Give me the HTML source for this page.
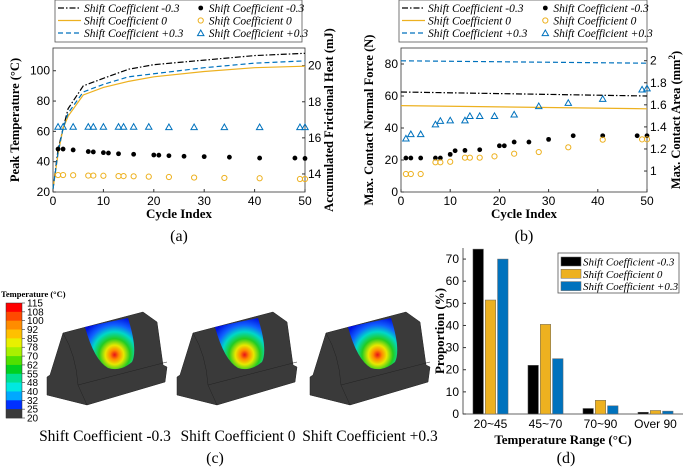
<!DOCTYPE html>
<html><head><meta charset="utf-8"><style>
html,body{margin:0;padding:0;background:#fff;}
svg{display:block;font-family:"Liberation Sans",sans-serif;}
.serif{font-family:"Liberation Serif",serif;}
</style></head><body>
<svg id="fig" width="685" height="468" viewBox="0 0 685 468" xmlns="http://www.w3.org/2000/svg">
<defs>
<radialGradient id="heat" cx="0.6" cy="0.72" r="0.75">
<stop offset="0" stop-color="#e8101a"/><stop offset="0.12" stop-color="#ff8a00"/><stop offset="0.25" stop-color="#e8e800"/>
<stop offset="0.42" stop-color="#22cc22"/><stop offset="0.6" stop-color="#00d8c8"/><stop offset="0.78" stop-color="#1060ff"/><stop offset="1" stop-color="#0010e0"/>
</radialGradient>
</defs>
<g id="pa"></g>
<g id="pb"></g>
<g id="pc"></g>
<g id="pd"></g>
</svg>
<script>
// ---------- Panel (a) data ----------
const aLineX = [0,1,2,3,6,10,15,20,30,40,50];
const aTempNeg = [22,48,62,75,90,95,101,104,107,110,111.5];
const aTempZero = [22,45,62,70,84,89,93,96,99.5,102,103];
const aTempPos = [22,46,62,72,86,91,96,98,102,105,106.5];
const aHeatNegX = [1,2,4,7,8,10,11,13,16,20,21,23,26,30,35,41,48,50];
const aHeatNeg = [15.38,15.38,15.33,15.24,15.22,15.18,15.16,15.12,15.09,15.05,15.04,15.01,14.98,14.96,14.93,14.88,14.88,14.86];
const aHeatX = [1,2,4,7,8,10,13,14,16,19,23,28,34,41,49,50];
const aHeatZero = [13.94,13.94,13.93,13.91,13.91,13.9,13.88,13.88,13.87,13.85,13.83,13.8,13.78,13.76,13.72,13.72];
const aHeatPos = [16.62,16.62,16.62,16.62,16.62,16.62,16.62,16.62,16.62,16.62,16.6,16.6,16.6,16.6,16.6,16.6];
const aLeftTicks = [20,40,60,80,100];
const aRightTicks = [14,16,18,20];
const xTicks = [0,10,20,30,40,50];
// ---------- Panel (b) data ----------
const bLineX = [0,50];
const bForceNeg = [62.5,60];
const bForceZero = [54,52];
const bForcePos = [82,80.5];
const bAreaNegX = [1,2,4,7,8,10,11,13,16,20,21,23,26,30,35,41,48,50];
const bAreaNeg = [1.118,1.118,1.118,1.118,1.118,1.151,1.184,1.187,1.193,1.229,1.229,1.263,1.263,1.287,1.32,1.32,1.32,1.32];
const bAreaX = [1,2,4,7,8,10,13,14,16,19,23,28,34,41,49,50];
const bAreaZero = [0.973,0.973,0.973,1.079,1.079,1.084,1.121,1.121,1.121,1.133,1.157,1.172,1.215,1.284,1.287,1.287];
const bAreaPos = [1.296,1.335,1.335,1.424,1.456,1.46,1.46,1.50,1.50,1.50,1.513,1.589,1.619,1.655,1.74,1.75];
const bLeftTicks = [0,20,40,60,80];
const bRightTicks = [1,1.2,1.4,1.6,1.8,2];
// ---------- Panel (d) data ----------
const dCats = ["20~45","45~70","70~90","Over 90"];
const dNeg = [74.5,22,2.5,0.8];
const dZero = [51.5,40.5,6.2,1.6];
const dPos = [70,25,3.7,1.3];
const dTicks = [0,10,20,30,40,50,60,70];
// ---------- Panel (c) data ----------
const cbLabels = ["115","108","100","92","85","78","70","62","55","48","40","32","25","20"];
const cbColors = ["#ff0000","#ff4a00","#ff8c00","#ffc000","#e8f000","#a8f000","#50e000","#00d020","#00e090","#00e8e0","#00a8ff","#0030ff","#3a3a3a"];

const NS="http://www.w3.org/2000/svg";
function mk(parent,tag,attrs,text){const e=document.createElementNS(NS,tag);for(const k in attrs)e.setAttribute(k,attrs[k]);if(text!==undefined)e.textContent=text;parent.appendChild(e);return e;}
const BLK="#000",ORG="#edb120",BLU="#0072bd";

function legend(g,x0,y0,w){
  const box=mk(g,'rect',{x:x0,y:y0,width:w,height:42,fill:'#fff',stroke:'#555','stroke-width':0.8});
  
  const names=["Shift Coefficient -0.3","Shift Coefficient 0","Shift Coefficient +0.3"];
  const cols=[BLK,ORG,BLU],dash=["6,2,1.5,2","","5,3"];
  for(let i=0;i<3;i++){
    const y=y0+8+i*12.5;
    const l=mk(g,'line',{x1:x0+3,x2:x0+26,y1:y,y2:y,stroke:cols[i],'stroke-width':1.2,'stroke-dasharray':dash[i]});
    
    const t=mk(g,'text',{x:x0+29,y:y+4,'font-size':11.5,'font-style':'italic','class':'serif'},names[i]);
    
    const mx=x0+w*0.59;
    let m;
    if(i==0)m=mk(g,'circle',{cx:mx,cy:y,r:2.4,fill:BLK});
    else if(i==1)m=mk(g,'circle',{cx:mx,cy:y,r:2.6,fill:'none',stroke:ORG,'stroke-width':1});
    else m=mk(g,'path',{d:`M${mx-3.2},${y+2.6}L${mx},${y-3}L${mx+3.2},${y+2.6}Z`,fill:'none',stroke:BLU,'stroke-width':1});
    
    const t2=mk(g,'text',{x:mx+8,y:y+4,'font-size':11.5,'font-style':'italic','class':'serif'},names[i]);
    
  }
}
function marker(g,type,x,y,col){
  if(type==0)return mk(g,'circle',{cx:x,cy:y,r:2.4,fill:BLK});
  if(type==1)return mk(g,'circle',{cx:x,cy:y,r:2.6,fill:'none',stroke:ORG,'stroke-width':1});
  return mk(g,'path',{d:`M${x-3.2},${y+2.6}L${x},${y-3}L${x+3.2},${y+2.6}Z`,fill:'none',stroke:BLU,'stroke-width':1});
}
function dualPanel(g,cfg){
  const {L,R,T,B,x0,x1,yl0,yl1,yr0,yr1}=cfg;
  const sx=v=>L+(v-x0)/(x1-x0)*(R-L);
  const syl=v=>B-(v-yl0)/(yl1-yl0)*(B-T);
  const syr=v=>B-(v-yr0)/(yr1-yr0)*(B-T);
  const fr=mk(g,'rect',{x:L,y:T,width:R-L,height:B-T,fill:'none',stroke:'#333','stroke-width':0.8});
  
  xTicks.forEach(v=>{const x=sx(v);mk(g,'line',{x1:x,x2:x,y1:B,y2:B-3,stroke:'#333'});
    const t=mk(g,'text',{x:x,y:B+13,'font-size':12,'text-anchor':'middle'},v);
    });
  cfg.lt.forEach(v=>{const y=syl(v);mk(g,'line',{x1:L,x2:L+3,y1:y,y2:y,stroke:'#333'});
    const t=mk(g,'text',{x:L-3,y:y+4,'font-size':12,'text-anchor':'end'},v);
    });
  cfg.rt.forEach(v=>{const y=syr(v);mk(g,'line',{x1:R,x2:R-3,y1:y,y2:y,stroke:'#333'});
    const t=mk(g,'text',{x:R+3,y:y+4,'font-size':12},v);
    });
  const cols=[BLK,ORG,BLU],dash=["6,2,1.5,2","","5,3"];
  cfg.lines.forEach((ys,i)=>{
    const p=mk(g,'polyline',{points:cfg.lx.map((x,j)=>sx(x)+','+syl(ys[j])).join(' '),fill:'none',stroke:cols[i],'stroke-width':1.2,'stroke-dasharray':dash[i]});
    
  });
  cfg.scat.forEach((s,i)=>{
    s.x.forEach((xv,j)=>{const m=marker(g,i,sx(xv),syr(s.y[j]));
      });
  });
  const xl=mk(g,'text',{x:(L+R)/2,y:B+26,'font-size':13,'font-weight':'bold','text-anchor':'middle','class':'serif'},'Cycle Index');
  
  const yl=mk(g,'text',{x:0,y:0,'font-size':12.5,'font-weight':'bold','text-anchor':'middle','class':'serif',transform:`translate(${cfg.ylx},${(T+B)/2}) rotate(-90)`},cfg.ylabel);
  
  const yr=mk(g,'text',{x:0,y:0,'font-size':12.5,'font-weight':'bold','text-anchor':'middle','class':'serif',transform:`translate(${cfg.yrx},${(T+B)/2}) rotate(-90)`});
  yr.innerHTML=cfg.yrlabel;
  
  const cap=mk(g,'text',{x:(L+R)/2,y:241,'font-size':16,'text-anchor':'middle','class':'serif'},cfg.cap);
  
}
// Panel a
const pa=document.getElementById('pa');
legend(pa,55,0,247);
dualPanel(pa,{L:53,R:305,T:48,B:192,x0:0,x1:50,yl0:20,yl1:115,yr0:13,yr1:20.98,lt:aLeftTicks,rt:aRightTicks,
  lx:aLineX,lines:[aTempNeg,aTempZero,aTempPos],
  scat:[{x:aHeatNegX,y:aHeatNeg},{x:aHeatX,y:aHeatZero},{x:aHeatX,y:aHeatPos}],
  ylx:19,yrx:333,ylabel:'Peak Temperature (°C)',yrlabel:'Accumulated Frictional Heat (mJ)',cap:'(a)'});
// Panel b
const pb=document.getElementById('pb');
legend(pb,399,0,248);
dualPanel(pb,{L:401,R:647,T:48,B:192,x0:0,x1:50,yl0:0,yl1:90,yr0:0.81,yr1:2.115,lt:bLeftTicks,rt:bRightTicks,
  lx:bLineX,lines:[bForceNeg,bForceZero,bForcePos],
  scat:[{x:bAreaNegX,y:bAreaNeg},{x:bAreaX,y:bAreaZero},{x:bAreaX,y:bAreaPos}],
  ylx:373,yrx:680,ylabel:'Max. Contact Normal Force (N)',yrlabel:'Max. Contact Area (mm<tspan dy="-5" font-size="9">2</tspan><tspan dy="5">)</tspan>',cap:'(b)'});

// Panel d
(function(){
  const g=document.getElementById('pd');
  const L=463,R=683,T=248,B=414,ymax=75;
  const sy=v=>B-v/ymax*(B-T);
  const fr=mk(g,'path',{d:`M${L},${T}L${L},${B}L${R},${B}`,fill:'none',stroke:'#333','stroke-width':0.8});
  
  dTicks.forEach(v=>{const y=sy(v);mk(g,'line',{x1:L,x2:L+3,y1:y,y2:y,stroke:'#333'});
    const t=mk(g,'text',{x:L-4,y:y+4,'font-size':12,'text-anchor':'end'},v);
    });
  const gw=(R-L)/dCats.length, bw=10.5;
  const series=[dNeg,dZero,dPos],cols=[BLK,ORG,BLU];
  dCats.forEach((c,i)=>{
    const cx=L+gw*(i+0.5);
    series.forEach((s,k)=>{
      const x=cx+(k-1)*12.3-bw/2;
      const r=mk(g,'rect',{x:x,y:sy(s[i]),width:bw,height:B-sy(s[i]),fill:cols[k],stroke:'#666','stroke-width':0.5});
      
    });
    const t=mk(g,'text',{x:cx,y:B+14,'font-size':12,'text-anchor':'middle'},c);
    
  });
  const xl=mk(g,'text',{x:L+(R-L)/2-10,y:444,'font-size':13,'font-weight':'bold','text-anchor':'middle','class':'serif'},'Temperature Range (°C)');
  
  const yl=mk(g,'text',{x:0,y:0,'font-size':13,'font-weight':'bold','text-anchor':'middle','class':'serif',transform:`translate(444,${(T+B)/2}) rotate(-90)`},'Proportion (%)');
  
  const lb=mk(g,'rect',{x:558,y:253,width:121,height:40,fill:'#fff',stroke:'#555','stroke-width':0.8});
  
  const names=["Shift Coefficient -0.3","Shift Coefficient 0","Shift Coefficient +0.3"];
  names.forEach((n,k)=>{const y=257+k*12.3;
    const s=mk(g,'rect',{x:561,y:y,width:20,height:9,fill:cols[k],stroke:'#666','stroke-width':0.5});
    
    const t=mk(g,'text',{x:583,y:y+8.5,'font-size':11,'font-style':'italic','class':'serif'},n);
    });
  const cap=mk(g,'text',{x:566,y:463,'font-size':16,'text-anchor':'middle','class':'serif'},'(d)');
  
})();

// Panel c
(function(){
  const g=document.getElementById('pc');
  const tt=mk(g,'text',{x:1,y:297,'font-size':8.5,'font-weight':'bold','class':'serif'},'Temperature (°C)');
  
  const top=303,bot=418,h=(bot-top)/(cbLabels.length-1);
  for(let i=0;i<cbColors.length;i++){
    const r=mk(g,'rect',{x:6,y:top+i*h,width:16,height:h+0.3,fill:cbColors[i]});
    
  }
  mk(g,'rect',{x:6,y:top,width:16,height:bot-top,fill:'none',stroke:'#333','stroke-width':0.5});
  cbLabels.forEach((l,i)=>{const y=top+i*h;mk(g,'line',{x1:22,x2:25,y1:y,y2:y,stroke:'#333','stroke-width':0.6});
    const t=mk(g,'text',{x:27,y:y+3.5,'font-size':10},l);
    });
  const caps=["Shift Coefficient -0.3","Shift Coefficient 0","Shift Coefficient +0.3"];
  const offs=[0,130,263];
  offs.forEach((o,k)=>{
    const sg=mk(g,'g',{transform:`translate(${o},0)`});
    
    mk(sg,'path',{d:'M47,377L50,375L63,333L143,312L157,322L163,365L167,367L165,382L87,405L47,395Z',fill:'#3a3a3a',stroke:'#222','stroke-width':0.5});
    mk(sg,'path',{d:'M63,333Q76,355 78,385L167,362M78,385L87,405',fill:'none',stroke:'#222','stroke-width':0.5});
    const b=mk(sg,'path',{d:'M85,327L128,318Q138,350 132,362Q120,372 108,368Q94,360 85,327Z',fill:'url(#heat)'});
    
    const t=mk(g,'text',{x:[105,238,370][k],y:441,'font-size':15.5,'text-anchor':'middle','class':'serif'},caps[k]);
    
  });
  const cap=mk(g,'text',{x:215,y:463,'font-size':16,'text-anchor':'middle','class':'serif'},'(c)');
  
})();
</script>
</body></html>
